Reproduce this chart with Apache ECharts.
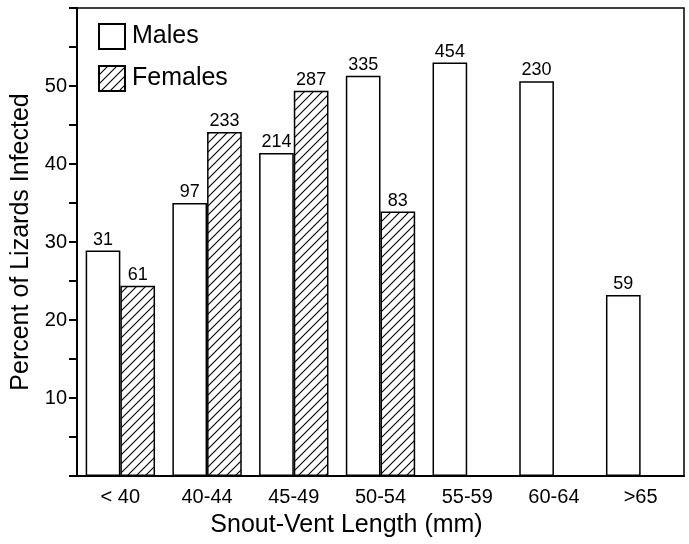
<!DOCTYPE html>
<html>
<head>
<meta charset="utf-8">
<script src="https://cdn.jsdelivr.net/npm/echarts@6/dist/echarts.min.js"></script>
<style>
html, body { margin: 0; padding: 0; background: #fff; }
#main { width: 689px; height: 544px; }
</style>
</head>
<body>
<div id="main"></div>
<script>
var categories = ['< 40', '40-44', '45-49', '50-54', '55-59', '60-64', '>65'];
var males = [28.9, 35.0, 41.4, 51.3, 53.0, 50.6, 23.2];
var females = [24.4, 44.1, 49.4, 33.9, null, null, null];
var malesN = [31, 97, 214, 335, 454, 230, 59];
var femalesN = [61, 233, 287, 83, null, null, null];

// hatch pattern for females
var hatch = document.createElement('canvas');
hatch.width = 9;
hatch.height = 9;
var hc = hatch.getContext('2d');
hc.fillStyle = '#fff';
hc.fillRect(0, 0, 9, 9);
hc.strokeStyle = '#000';
hc.lineWidth = 1.1;
hc.beginPath();
hc.moveTo(-1, 10); hc.lineTo(10, -1);
hc.moveTo(-1, 1); hc.lineTo(1, -1);
hc.moveTo(8, 10); hc.lineTo(10, 8);
hc.stroke();

var font = "'Liberation Sans', Arial, Helvetica, sans-serif";
var myChart = echarts.init(document.getElementById('main'));

var option = {
    backgroundColor: '#fff',
    animation: false,
    textStyle: { fontFamily: font, color: '#000' },
    grid: {
        left: 77, right: 5, top: 8, bottom: 68,
        show: true, borderColor: '#000', borderWidth: 1.5
    },
    legend: {
        orient: 'vertical',
        left: 93, top: 18,
        icon: 'rect',
        itemWidth: 26, itemHeight: 25, itemGap: 15,
        textStyle: { fontSize: 25, color: '#000', fontFamily: font, padding: [0, 0, 0, 2] },
        data: ['Males', 'Females']
    },
    xAxis: {
        type: 'category',
        data: categories,
        name: 'Snout-Vent Length (mm)',
        nameLocation: 'middle',
        nameGap: 37,
        nameTextStyle: { fontSize: 25, color: '#000', fontFamily: font, padding: [0, 68, 0, 0] },
        axisLine: { lineStyle: { color: '#000', width: 2 } },
        axisTick: { alignWithLabel: true, length: 8, lineStyle: { color: '#000', width: 2 } },
        axisLabel: { fontSize: 20, color: '#000', margin: 11, fontFamily: font, interval: 0 }
    },
    yAxis: {
        type: 'value',
        min: 0, max: 60, interval: 5,
        name: 'Percent of Lizards Infected',
        nameLocation: 'middle',
        nameGap: 40,
        nameTextStyle: { fontSize: 25, color: '#000', fontFamily: font },
        axisLine: { show: true, lineStyle: { color: '#000', width: 2 } },
        axisTick: { show: true, length: 8, lineStyle: { color: '#000', width: 2 } },
        axisLabel: {
            fontSize: 20, color: '#000', margin: 10, fontFamily: font,
            formatter: function (v) { return (v % 10 === 0 && v > 0 && v < 60) ? v : ''; }
        },
        splitLine: { show: false }
    },
    series: [
        {
            name: 'Males',
            type: 'bar',
            data: males,
            barWidth: '40%',
            barGap: 0,
            itemStyle: { color: '#fff', borderColor: '#000', borderWidth: 1.5 },
            label: {
                show: true, position: 'top', distance: 2,
                fontSize: 18, color: '#000', fontFamily: font,
                formatter: function (p) { return malesN[p.dataIndex]; }
            }
        },
        {
            name: 'Females',
            type: 'bar',
            data: females,
            barWidth: '40%',
            barGap: 0,
            itemStyle: { color: { image: hatch, repeat: 'repeat' }, borderColor: '#000', borderWidth: 1.5 },
            label: {
                show: true, position: 'top', distance: 2,
                fontSize: 18, color: '#000', fontFamily: font,
                formatter: function (p) { return femalesN[p.dataIndex] == null ? '' : femalesN[p.dataIndex]; }
            }
        }
    ]
};

myChart.setOption(option);
</script>
</body>
</html>
